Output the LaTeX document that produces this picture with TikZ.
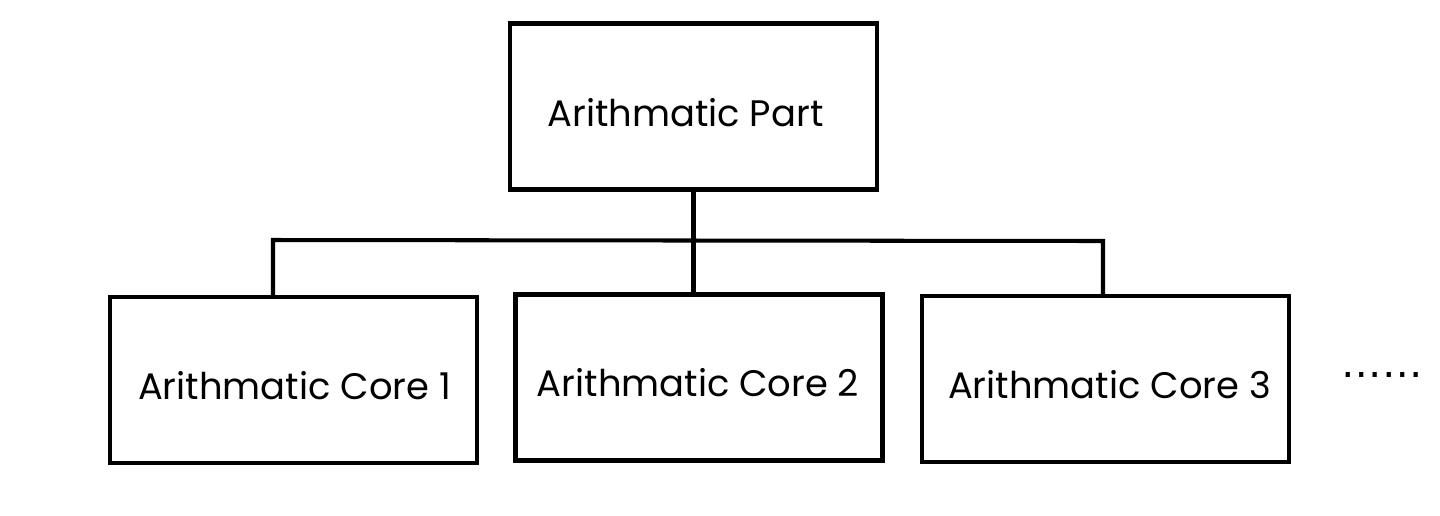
\documentclass[tikz,border=0pt]{standalone}
\usepackage{fontspec}
\setmainfont{Poppins}
\newfontfamily\dotsfont{DejaVu Sans}
\begin{document}
\begin{tikzpicture}[x=0.02cm,y=-0.02cm,
  box/.style={draw,line width=2.3pt,minimum width=367*0.02cm,minimum height=166*0.02cm,inner sep=0pt},
  lbl/.style={inner sep=0pt,font=\fontsize{21}{25}\selectfont},
  link/.style={line width=2.3pt}]
\useasboundingbox (0,0) rectangle (1440,515);
\node[box] (top) at (693.5,106.5) {};
\node[box] (c1) at (293.5,380) {};
\node[box] (c2) at (699,377.5) {};
\node[box] (c3) at (1105.5,379) {};
\node[lbl] (topt) at ([shift={(-8,6)}]top.center) {Arithmatic Part};
\node[lbl] (c1t) at ([shift={(1,6)}]c1.center) {Arithmatic Core 1};
\node[lbl] (c2t) at ([shift={(-1,5)}]c2.center) {Arithmatic Core 2};
\node[lbl] (c3t) at ([shift={(4,6)}]c3.center) {Arithmatic Core 3};
\node[inner sep=0pt,font=\dotsfont\fontsize{23}{26}\selectfont] (dots) at (1382,375) {……};
\coordinate (jl) at (273,240);
\coordinate (jr) at (1103,241);
\draw[link] (top.south) -- (top.south |- c2.north);
\draw[link,line join=miter] (c1.north -| jl) -- (jl) -- (jr) -- (c3.north -| jr);
\end{tikzpicture}
\end{document}
